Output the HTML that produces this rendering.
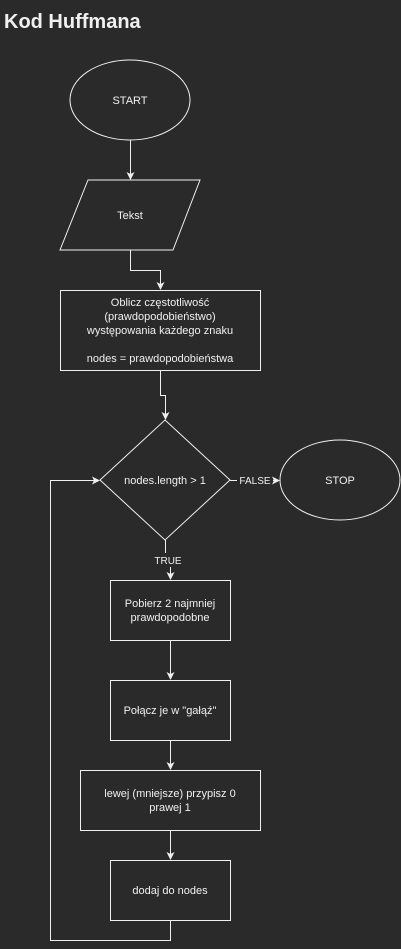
<!DOCTYPE html>
<html><head><meta charset="utf-8"><style>
html,body{margin:0;padding:0;background:#2a2a2a;}
svg{display:block}
text{font-family:"Liberation Sans",Arial,sans-serif;fill:#f0f0f0;font-size:11px;text-anchor:middle}
</style></head><body>
<svg width="401" height="949" viewBox="0 0 401 949" xmlns="http://www.w3.org/2000/svg">
<defs><marker id="a" markerWidth="8" markerHeight="8" refX="7" refY="4" orient="auto" markerUnits="userSpaceOnUse"><path d="M0,0 L8,4 L0,8 L2,4 Z" fill="#f0f0f0"/></marker></defs>
<rect width="401" height="949" fill="#2a2a2a"/>
<text x="4" y="28" style="font-size:20px;font-weight:bold;text-anchor:start">Kod Huffmana</text>
<g fill="none" stroke="#f0f0f0" stroke-width="1">
<ellipse cx="130" cy="100" rx="60" ry="40"/>
<path d="M88,180 L200,180 L173,250 L60,250 Z"/>
<rect x="60.5" y="290.5" width="200" height="80"/>
<path d="M165,420 L230,480 L165,540 L100,480 Z"/>
<ellipse cx="340" cy="480" rx="60" ry="40"/>
<rect x="110.5" y="580.5" width="120" height="60"/>
<rect x="110.5" y="680.5" width="120" height="60"/>
<rect x="80.5" y="770.5" width="180" height="60"/>
<rect x="110.5" y="860.5" width="120" height="60"/>
<path d="M130.5,140 V179" marker-end="url(#a)"/>
<path d="M130.5,250 V270.5 H160.5 V289" marker-end="url(#a)"/>
<path d="M160.5,370 V395.5 H165.5 V419" marker-end="url(#a)"/>
<path d="M230,480.5 H237"/>
<path d="M273,480.5 H279" marker-end="url(#a)"/>
<path d="M165.5,540 V553"/>
<path d="M170.5,567 V579" marker-end="url(#a)"/>
<path d="M170.5,640 V679" marker-end="url(#a)"/>
<path d="M170.5,740 V769" marker-end="url(#a)"/>
<path d="M170.5,830 V859" marker-end="url(#a)"/>
<path d="M170.5,920 V940.5 H50.5 V480.5 H99" marker-end="url(#a)"/>
</g>
<text x="130" y="104">START</text>
<text x="130" y="219">Tekst</text>
<text x="160" y="306">Oblicz częstotliwość</text>
<text x="160" y="320">(prawdopodobieństwo)</text>
<text x="160" y="334">występowania każdego znaku</text>
<text x="160" y="362">nodes = prawdopodobieństwa</text>
<text x="165" y="484">nodes.length &gt; 1</text>
<text x="255" y="484" style="font-size:10px">FALSE</text>
<text x="340" y="484">STOP</text>
<text x="168" y="564" style="font-size:10px">TRUE</text>
<text x="170" y="607">Pobierz 2 najmniej</text>
<text x="170" y="621">prawdopodobne</text>
<text x="170" y="714">Połącz je w "gałąź"</text>
<text x="170" y="797">lewej (mniejsze) przypisz 0</text>
<text x="170" y="811">prawej 1</text>
<text x="170" y="894">dodaj do nodes</text>
</svg>
</body></html>
